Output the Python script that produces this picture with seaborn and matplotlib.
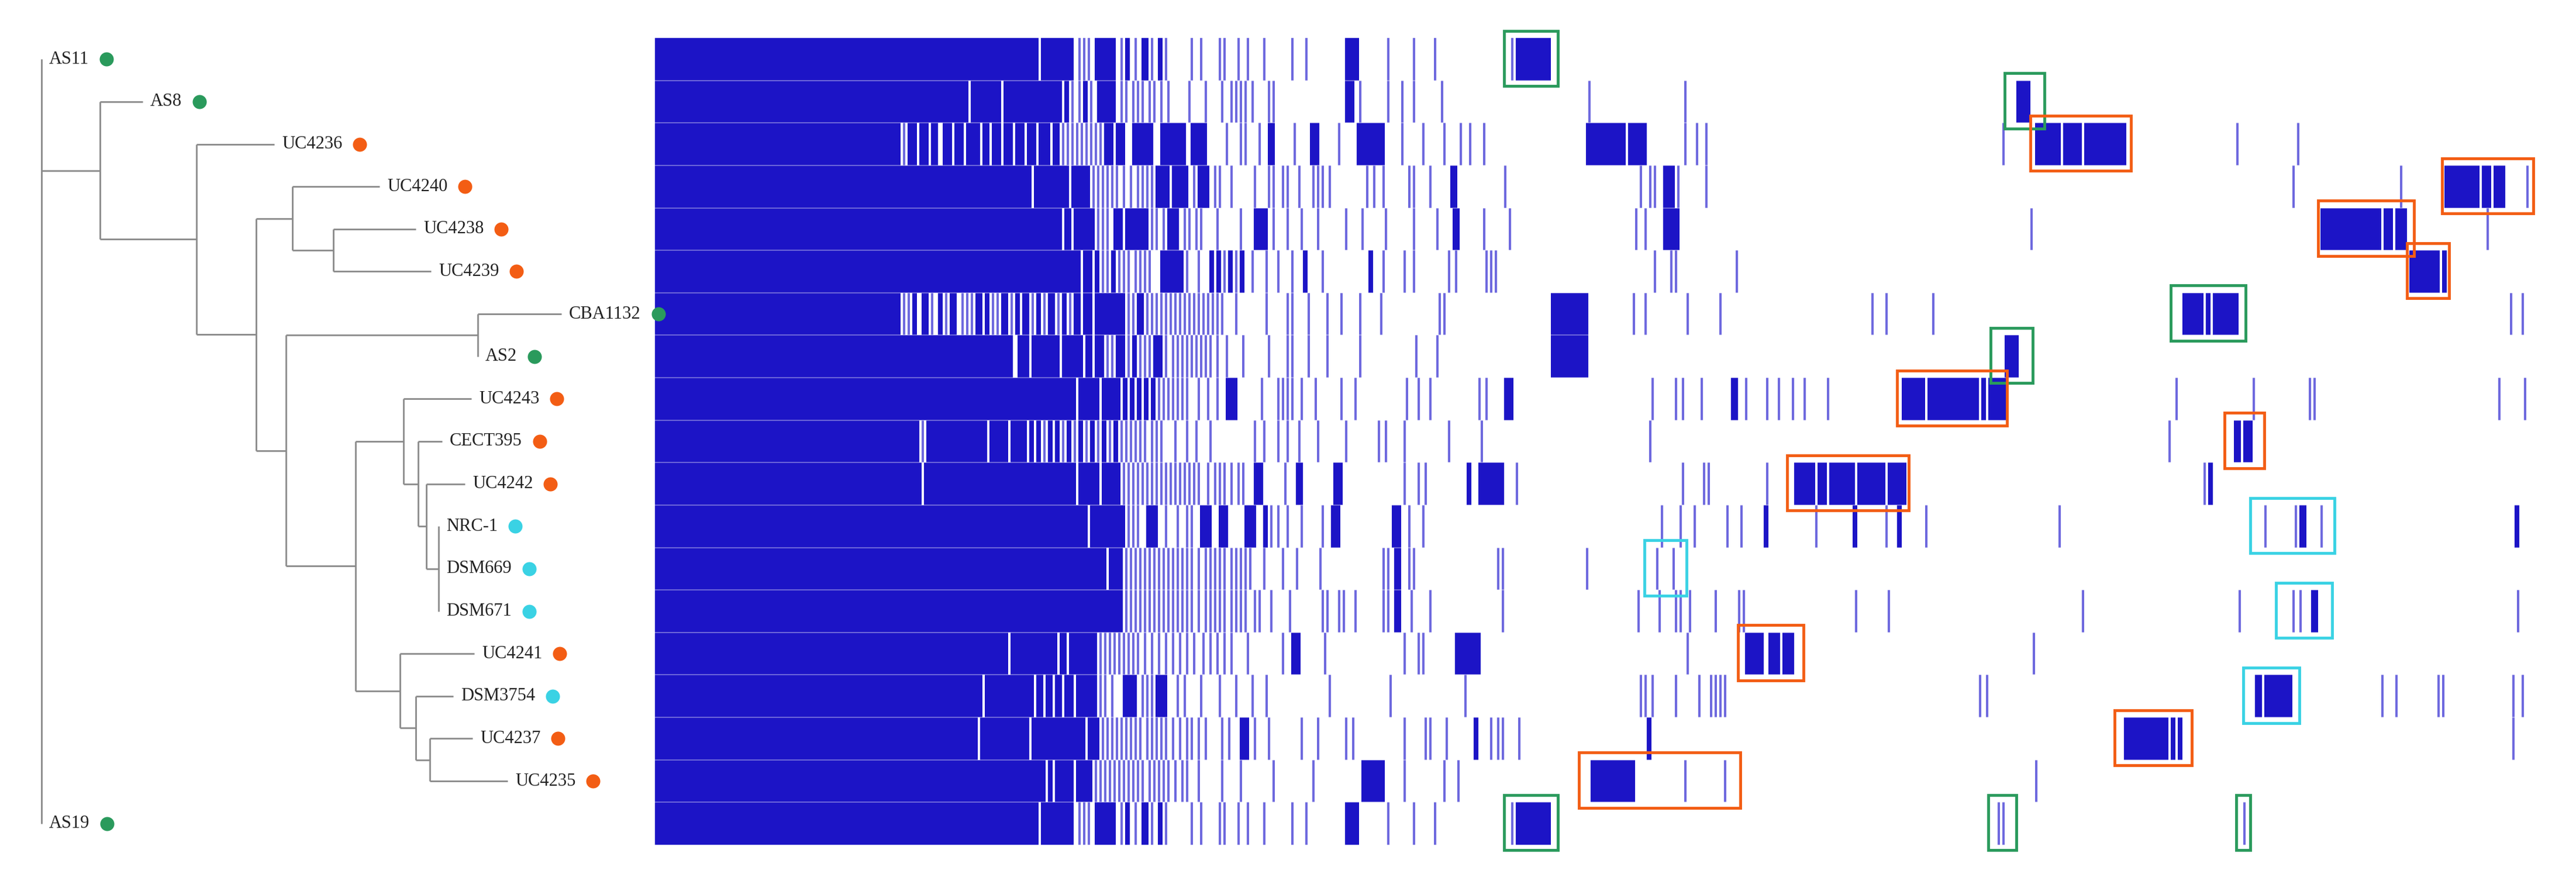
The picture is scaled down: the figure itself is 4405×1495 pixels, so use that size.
import numpy as np
import pandas as pd
import seaborn as sns
import matplotlib
matplotlib.use("Agg")
import matplotlib.pyplot as plt
from matplotlib.colors import ListedColormap
from matplotlib.patches import Rectangle

# ---------------- data ----------------
strains = ["AS11", "AS8", "UC4236", "UC4240", "UC4238", "UC4239", "CBA1132", "AS2",
           "UC4243", "CECT395", "UC4242", "NRC-1", "DSM669", "DSM671", "UC4241",
           "DSM3754", "UC4237", "UC4235", "AS19"]
groups = ["g", "g", "o", "o", "o", "o", "g", "g", "o", "o", "o", "c", "c", "c",
          "o", "c", "o", "o", "g"]
group_colors = {"g": "#2a9a5c", "o": "#f35d14", "c": "#3ad2e4"}
n_genes = 802

presence = [
 "0-163 165-177 178 181 183 185 188-196 199 201 202 205 208-210 212 215 216 218 229 233 241 243 249 253 260 272 278 295-300 313 324 333 366 368-382",
 "0-133 135-147 149-173 175 176 178 181 183 184 186 189-196 199 201 204 206 208 211 213 216 219 228 235 242 246 248 250 252 255 262 264 295-298 301 313 319 324 336 399 440 582-587",
 "0-104 106 108-111 113-116 118-120 123-126 128-131 133-138 140-142 144-147 149-152 154-157 159-162 164-168 170-172 174 176 178 180 182 184 186 188 190 192-195 197-200 204-212 216-226 229-235 244 250 252 258 262-264 273 280-283 292 300-311 319 328 337 344 348 354 398-414 416-423 440 445 449 576 590-600 602-609 611-628 676 702",
 "0-160 162-170 171-176 178-185 187 189 191 193 195 197 200 203 206 208 210 212 214-219 221-227 230 232-236 239 241 246 256 262 264 268 270 275 281 283 285 288 304 307 311 322 324 331 340-342 363 421 425 427 431-435 437 449 700 746 765-779 781-784 786-790 800",
 "0-173 175-177 179-187 189 191 193 196-199 201-210 212 214 217 219-223 226 228 231 233 240 250 256-261 264 270 276 283 295 302 312 324 334 341-343 354 365 419 423 431-437 588 712-737 739-742 744-748 783",
 "0-181 183-186 188 189 191 193 195 196 198 200 202 205 207 209 211 216-225 227 232 237 238 240 241 243 245 246 248 250 251 255 261 266 272 277 278 285 305 306 311 320 324 339 342 355 357 359 427 434 436 462 750-762 764-765",
 "0-104 106 108 110-111 114-116 118 121-122 124 126-128 131 133 135 137-139 141-142 144 146 148-150 152 154-155 157-159 161 163-164 166 168-170 172 174-175 177 179-181 183-186 188-200 202 204 206-208 210 212 214 216 218 220 222 224 226 228 230 232 234 236 238 240 242 248 261 270 272 279 287 293 301 310 335 337 383-398 418 423 441 455 520 526 546 653-661 663-664 666-676 793 798",
 "0-152 155-156 157-159 161-172 174-182 184-186 188-191 193 195 197-200 202 204 205 207 209 211 213-216 218 221 223 225 227 229 231 233 235 237 240 244 251 262 270 272 279 287 301 325 334 383-398 577-582",
 "0-179 181-189 191-198 200 201 203 204 206 207 209 210 212 213 215 217 219 221 223 225 227 232 236 240 244-248 259 266 268 270 272 276 282 293 299 321 326 331 352 355 363-366 426 436 439 447 460-462 466 475 480 486 491 501 533-542 544-565 567-568 570-577 650 683 707 709 788 799",
 "0-112 114 116 117-141 143-150 152-158 160 161 163 164 166 168 169 171 172 174 176 177 179 181 182 184 186 187 189 191 192 194 196 197 199 201 203 205 207 209 212 214 216 222 227 231 237 256 260 266 270 275 283 295 309 312 320 339 353 425 647 675-677 679 680-682",
 "0-113 115 116-179 181-189 191-198 200 202 204 206 208 210 212 214 216 218 220 222 224 226 228 230 232 236 239 241 243 246 249 251 256-259 269 274-276 290-293 320 326 329 347-348 352-362 368 439 448 450 475 487-495 497-500 502-512 514-525 527-534 662 664 665",
 "0-184 186-192 193-200 202 204 206 210-214 218 223 227 229 233-237 241-244 252-256 260 261 263 266 270 276 285 289-292 315-318 322 328 430 438 444 458 464 474 475 496 512 513 526 531 532 543 600 688 701 703-705 712 795 796",
 "0-192 194-199 201 203 205 207 209 211 213 215 217 219 221 223 225 227 229 232 235 237 239 241 243 246 248 250 252 254 260 268 274 284 311 313 316-318 322 324 360 362 398 428 435",
 "0-199 201 203 205 207 209 211 213 215 217 219 221 223 225 227 229 232 235 237 239 241 243 246 248 250 252 256 258 263 271 285 287 292 294 299 311 313 316-318 323 331 362 420 429 436 438 442 453 463 465 513 527 610 677 700 703 708-710 796",
 "0-150 152-171 173-175 177-188 190 192 194 196 198 200 202 204 206 209 212 215 218 221 224 227 230 234 237 240 243 246 253 268 272-275 286 320 326 328 342-352 441 466-473 476-480 482-486 589",
 "0-139 141-161 163-165 167-169 171-173 175-178 180-188 190 192 195 200-205 208 210 212 214-218 223 226 233 241 248 255 261 288 314 346 421 423 426 436 446 451 453 455 457 566 569 684-686 688-699 738 744 762 764 794 798",
 "0-137 139-159 161-183 185-189 191 193 195 197 199 201 203 205 207 210 212 214 216 218 221 224 227 229 232 235 242 245 250-253 256 262 276 283 295 298 320 329 331 338 350-351 357 360 362 369 424 425 628-646 648-649 651-652 794",
 "0-166 168-169 171-178 180-186 188 190 192 194 196 198 200 202 204 206 208 211 213 215 217 219 222 225 227 232 242 250 264 281 302-311 320 337 343 400-418 440 457 590",
 "0-163 165-177 178 181 183 185 188-196 199 201 202 205 208-210 212 215 216 218 229 233 241 243 249 253 260 272 278 295-300 313 324 333 366 368-382 574 576 679",
]

# highlighted boxes: (row, first gene, last gene, group)
boxes = [(0, 363, 385, "g"), (18, 363, 385, "g"), (1, 577, 593, "g"), (2, 588, 630, "o"),
         (3, 764, 802, "o"), (4, 711, 751, "o"), (5, 749, 766, "o"), (6, 648, 679, "g"),
         (7, 571, 588, "g"), (8, 531, 577, "o"), (9, 671, 687, "o"), (10, 484, 535, "o"),
         (11, 682, 717, "c"), (12, 423, 440, "c"), (13, 693, 716, "c"), (14, 463, 490, "o"),
         (15, 679, 702, "c"), (16, 624, 656, "o"), (17, 395, 463, "o"),
         (18, 570, 581, "g"), (18, 676, 681, "g")]

# tree: internal node -> (x position of node, children)
tree = {
    "root": (71, ["AS11", "A", "AS19"]),
    "A": (171, ["AS8", "B"]),
    "B": (336, ["UC4236", "C"]),
    "C": (438, ["D", "E"]),
    "D": (500, ["UC4240", "F"]),
    "F": (570, ["UC4238", "UC4239"]),
    "E": (489, ["G", "H"]),
    "G": (817, ["CBA1132", "AS2"]),
    "H": (608, ["I", "J"]),
    "I": (690, ["UC4243", "K"]),
    "K": (715, ["CECT395", "L"]),
    "L": (729, ["UC4242", "M"]),
    "M": (750, ["NRC-1", "DSM669", "DSM671"]),
    "J": (684, ["UC4241", "N"]),
    "N": (711, ["DSM3754", "O"]),
    "O": (735, ["UC4237", "UC4235"]),
}
tip_x = {"AS11": 71, "AS19": 71, "AS8": 244, "UC4236": 469, "UC4240": 649,
         "UC4238": 711, "UC4239": 737, "CBA1132": 960, "AS2": 817, "UC4243": 806,
         "CECT395": 756, "UC4242": 795, "NRC-1": 750, "DSM669": 750, "DSM671": 750,
         "UC4241": 811, "DSM3754": 775, "UC4237": 808, "UC4235": 868}

# ---------------- build matrix ----------------
def parse(s):
    out = []
    for tok in s.split():
        if "-" in tok:
            a, b = tok.split("-")
            out.extend(range(int(a), int(b) + 1))
        else:
            out.append(int(tok))
    return out

mat = np.zeros((len(strains), n_genes))
for i, s in enumerate(presence):
    idx = [g for g in parse(s) if g < n_genes]
    mat[i, idx] = 1
# isolated single genes render as thin, lighter lines (as in the reference)
padded = np.pad(mat, ((0, 0), (1, 1)))
single = (mat == 1) & (padded[:, :-2] == 0) & (padded[:, 2:] == 0)
mat[single] = 0.5
df = pd.DataFrame(mat, index=strains)

# ---------------- figure ----------------
W, H = 4405, 1495
fig = plt.figure(figsize=(W / 100, H / 100), dpi=100)
hx0, hx1, hy0, hy1 = 1120, 4328, 65, 1445
axh = fig.add_axes([hx0 / W, 1 - hy1 / H, (hx1 - hx0) / W, (hy1 - hy0) / H])
sns.heatmap(df, cmap=ListedColormap(["white", "#6e69de", "#1c14c6"]), vmin=-0.25, vmax=1.25,
            cbar=False, ax=axh, xticklabels=False, yticklabels=False)
for r in range(1, len(strains)):
    axh.axhline(r, color="white", alpha=0.35, lw=1.5)
for (r, g0, g1, grp) in boxes:
    axh.add_patch(Rectangle((g0, r - 0.17), g1 - g0 + 1, 1.3, fill=False,
                            ec=group_colors[grp], lw=3.5, clip_on=False, zorder=5))
axh.set_xlim(0, n_genes)
axh.axis("off")
axh.set_ylim(len(strains), 0)

# dendrogram
axd = fig.add_axes([0, 1 - hy1 / H, hx0 / W, (hy1 - hy0) / H])
axd.set_xlim(0, hx0)
axd.set_ylim(len(strains), 0)
axd.axis("off")
leaf_y = {s: i + 0.5 for i, s in enumerate(strains)}
ycache = {}

def node_y(n):
    if n in leaf_y:
        return leaf_y[n]
    if n not in ycache:
        ys = [node_y(c) for c in tree[n][1]]
        ycache[n] = (min(ys) + max(ys)) / 2
    return ycache[n]

def node_x(n):
    return tip_x[n] if n in tip_x else tree[n][0]

lc = "#8a8a8a"
for n, (x, ch) in tree.items():
    ys = [node_y(c) for c in ch]
    axd.plot([x, x], [min(ys), max(ys)], color=lc, lw=2, solid_capstyle="butt")
    for c in ch:
        axd.plot([x, node_x(c)], [node_y(c), node_y(c)], color=lc, lw=2,
                 solid_capstyle="butt")

texts = []
for s in strains:
    t = axd.text(tip_x[s] + 13, leaf_y[s], s, ha="left", va="center", fontsize=22,
                 family="Liberation Serif", color="#222222")
    texts.append(t)
fig.canvas.draw()
inv = axd.transData.inverted()
for s, t, g in zip(strains, texts, groups):
    bb = t.get_window_extent()
    xe, _ = inv.transform((bb.x1, bb.y0))
    axd.scatter([xe + 30], [leaf_y[s]], s=300, color=group_colors[g], zorder=6,
                clip_on=False, linewidths=0)

fig.savefig("out.png", dpi=100, facecolor="white")
